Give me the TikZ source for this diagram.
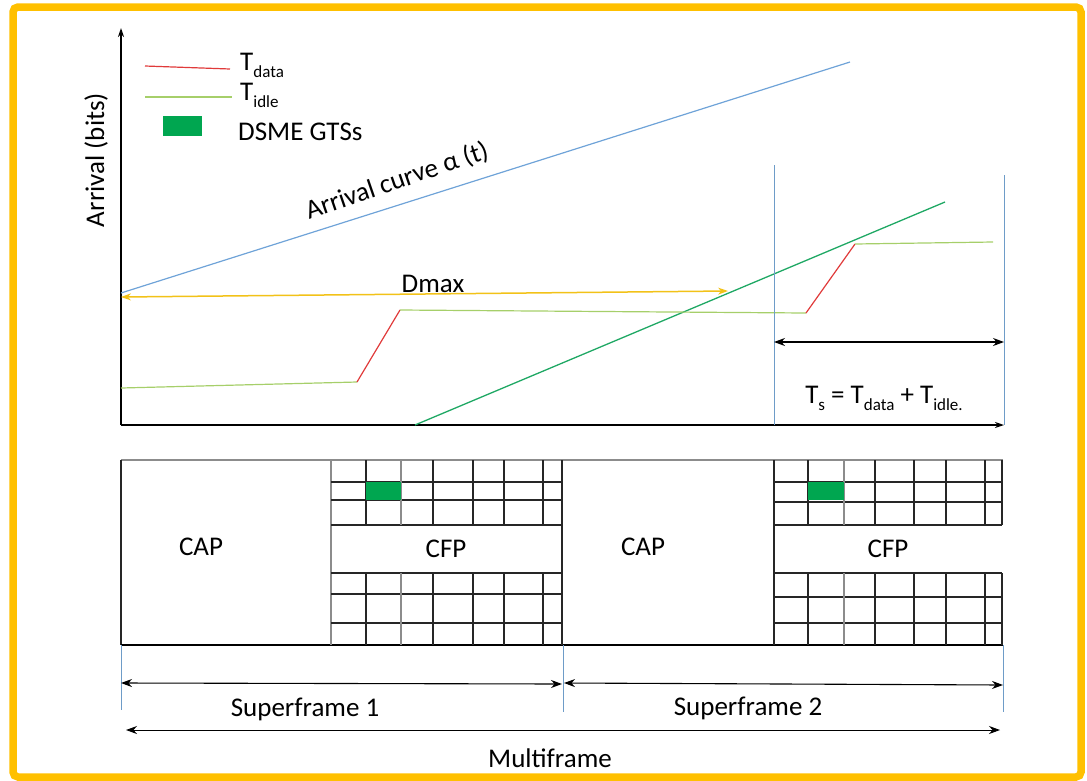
\documentclass[tikz,border=0pt]{standalone}
\usepackage{fontspec}
\setmainfont{Carlito}
\usetikzlibrary{arrows.meta}
\definecolor{frameorange}{HTML}{FFC000}
\definecolor{arrblue}{HTML}{6FA3D8}
\definecolor{srvgreen}{HTML}{1FA864}
\definecolor{idlegreen}{HTML}{A6CF6A}
\definecolor{datared}{HTML}{E03A3A}
\definecolor{gtsgreen}{HTML}{00A650}
\definecolor{dmaxyellow}{HTML}{F2C218}
\definecolor{guideblue}{HTML}{6E9CC8}
\definecolor{gridgray}{HTML}{8C8C8C}
\newcommand\lowsub[1]{\raisebox{-0.55ex}{\fontsize{17}{17}\selectfont #1}}
\tikzset{
  lbl/.style={inner sep=0pt, font=\fontsize{27}{32}\selectfont},
  axisline/.style={draw=black, line width=1.4pt, -{Stealth[length=9pt,width=6pt]}},
  dimarrow/.style={draw=black, line width=1.1pt, {Stealth[length=11pt,width=8pt]}-{Stealth[length=11pt,width=8pt]}},
  guide/.style={draw=guideblue, line width=0.8pt},
  arrcurve/.style={draw=arrblue, line width=1.2pt},
  srvcurve/.style={draw=srvgreen, line width=1.3pt},
  idleseg/.style={draw=idlegreen, line width=1.2pt},
  dataseg/.style={draw=datared, line width=1.2pt},
  gridblk/.style={draw=black!85, line width=1.1pt},
  gridgr/.style={draw=gridgray, line width=1.1pt},
  gts/.style={fill=gtsgreen, draw=none}
}
\begin{document}
\begin{tikzpicture}[x=1pt,y=-1pt]
\useasboundingbox (0,0) rectangle (1087,780);
% frame
\draw[frameorange, line width=7.5pt, rounded corners=5pt] (13,7) rectangle (1081,777);

% axes
\coordinate (O) at (121,425);
\coordinate (Ytop) at (121,28);
\coordinate (Xend) at (1004,425);
\draw[axisline] (O) -- (Ytop);
\draw[axisline] (O) -- (Xend);
\node[lbl, rotate=90] (ylab) at (96,160) {Arrival (bits)};

% legend
\coordinate (lr1) at (145,66); \coordinate (lr2) at (230,69);
\draw[dataseg] (lr1) -- (lr2);
\coordinate (lg1) at (145,97); \coordinate (lg2) at (232,97);
\draw[idleseg] (lg1) -- (lg2);
\node[gts, minimum width=39pt, minimum height=20pt, inner sep=0pt] (lgts) at (182.5,126) {};
\node[lbl, anchor=base west] (tdata) at (240,70) {T\lowsub{data}};
\node[lbl, anchor=base west] (tidle) at (240,100) {T\lowsub{idle}};
\node[lbl, anchor=base west] (gtslab) at (238,140) {DSME GTSs};

% arrival curve
\coordinate (a1) at (121,293); \coordinate (a2) at (850,62);
\draw[arrcurve] (a1) -- (a2);
\node[lbl, rotate=19] (alab) at (397,181) {Arrival curve α (t)};

% service curve
\coordinate (s1) at (415,425); \coordinate (s2) at (945,202);
\draw[srvcurve] (s1) -- (s2);

% staircase
\coordinate (p0) at (121,388);
\coordinate (p1) at (357,382);
\coordinate (p2) at (400,310);
\coordinate (p3) at (806,313);
\coordinate (p4) at (855,244);
\coordinate (p5) at (993,242);
\draw[idleseg] (p0) -- (p1);
\draw[dataseg] (p1) -- (p2);
\draw[idleseg] (p2) -- (p3);
\draw[dataseg] (p3) -- (p4);
\draw[idleseg] (p4) -- (p5);

% Dmax
\coordinate (d1) at (121,297); \coordinate (d2) at (728,291);
\draw[draw=dmaxyellow, line width=1.5pt, {Stealth[length=10pt,width=7pt]}-{Stealth[length=10pt,width=7pt]}] (d1) -- (d2);
\node[lbl] (dmax) at (433,284) {Dmax};

% Ts guides
\coordinate (g1t) at (774,165); \coordinate (g1b) at (774,425);
\coordinate (g2t) at (1004,175); \coordinate (g2b) at (1004,425);
\draw[guide] (g1t) -- (g1b);
\draw[guide] (g2t) -- (g2b);
\coordinate (ts1) at (774,342); \coordinate (ts2) at (1004,342);
\draw[dimarrow] (ts1) -- (ts2);
\node[lbl] (tslab) at (884,398) {T\lowsub{s} = T\lowsub{data} + T\lowsub{idle.}};

% ===== superframe structure =====
% outer box
\draw[gridgr] (121,460) -- (1003,460);
\draw[gridblk] (121,460) -- (121,645);
\draw[draw=black, line width=1.3pt] (121,645) -- (1003,645);
\draw[gridgr] (331,460) -- (331,645);
\draw[gridblk] (562,460) -- (562,645);
\draw[gridblk] (774,460) -- (774,645);

% left CFP grid
\foreach \y in {482,500,525,573,594,623} \draw[gridblk] (331,\y) -- (562,\y);
\foreach \x in {366,433,473,504,543} {
  \draw[gridblk] (\x,460) -- (\x,525);
  \draw[gridblk] (\x,573) -- (\x,645);
}
\foreach \x in {401} {
  \draw[gridgr] (\x,460) -- (\x,525);
  \draw[gridgr] (\x,573) -- (\x,645);
}
% right CFP grid
\foreach \y in {482,502,525,573,597,623} \draw[gridblk] (774,\y) -- (1002,\y);
\foreach \x in {808,875,914,946,985,1002} {
  \draw[gridblk] (\x,460) -- (\x,525);
  \draw[gridblk] (\x,573) -- (\x,645);
}
\foreach \x in {844} {
  \draw[gridgr] (\x,460) -- (\x,525);
  \draw[gridgr] (\x,573) -- (\x,645);
}
% GTS cells
\fill[gtsgreen] (366,482) rectangle (401,500);
\fill[gtsgreen] (808,482) rectangle (844,500);

\node[lbl] (cap1) at (201,547) {CAP};
\node[lbl] (cfp1) at (446,549) {CFP};
\node[lbl] (cap2) at (643,547) {CAP};
\node[lbl] (cfp2) at (888,549) {CFP};

% bottom guides
\coordinate (b1t) at (121,645); \coordinate (b1b) at (121,710);
\coordinate (b2t) at (563,645); \coordinate (b2b) at (563,712);
\coordinate (b3t) at (1003,645); \coordinate (b3b) at (1003,712);
\draw[guide] (b1t) -- (b1b);
\draw[guide] (b2t) -- (b2b);
\draw[guide] (b3t) -- (b3b);

\coordinate (sf1a) at (121,683); \coordinate (sf1b) at (562,684);
\coordinate (sf2a) at (564,683); \coordinate (sf2b) at (1003,685);
\draw[dimarrow] (sf1a) -- (sf1b);
\draw[dimarrow] (sf2a) -- (sf2b);
\node[lbl] (sf1) at (305,709) {Superframe 1};
\node[lbl] (sf2) at (748,708) {Superframe 2};

\coordinate (mfa) at (126,730); \coordinate (mfb) at (1000,730);
\draw[dimarrow, line width=0.9pt] (mfa) -- (mfb);
\node[lbl] (mf) at (550,758) {Multiframe};
\end{tikzpicture}
\end{document}
